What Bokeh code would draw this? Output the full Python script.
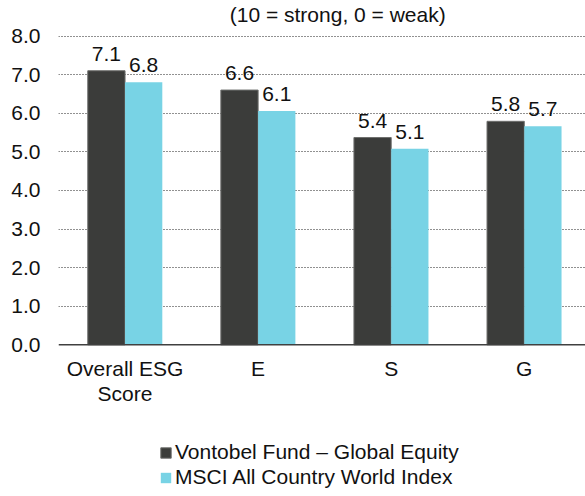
from bokeh.plotting import figure
from bokeh.models import (ColumnDataSource, Range1d, FixedTicker, Legend, LegendItem,
                          Label, NumeralTickFormatter, Span)
from bokeh.core.properties import value
from bokeh.embed import file_html
from bokeh.resources import INLINE

categories = ["Overall ESG\nScore", "E", "S", "G"]
fund_name = "Vontobel Fund \u2013 Global Equity"
index_name = "MSCI All Country World Index"
fund_values = [7.1, 6.6, 5.37, 5.79]
index_values = [6.8, 6.06, 5.08, 5.66]
y_ticks = [0, 1, 2, 3, 4, 5, 6, 7, 8]
subtitle = "(10 = strong, 0 = weak)"

FONT = "Liberation Sans"
FS = "21px"
TXT = "#111111"
DARK = "#3b3c3a"
LIGHT = "#78d3e5"
BW = 0.28

idx = list(range(len(categories)))
src_f = ColumnDataSource(dict(x=[i - BW / 2 for i in idx], top=fund_values,
                              lab=[f"{v:.1f}" for v in fund_values]))
src_i = ColumnDataSource(dict(x=[i + BW / 2 for i in idx], top=index_values,
                              lab=[f"{v:.1f}" for v in index_values]))
src_c = ColumnDataSource(dict(x=idx, y=[0] * len(idx), lab=categories))

p = figure(frame_width=527, frame_height=488, output_backend="svg", toolbar_location=None,
           x_range=Range1d(-0.5, 3.46), y_range=Range1d(-3.723, 8.92),
           min_border_left=0, min_border_right=0, min_border_top=0, min_border_bottom=0)
p.margin = (0, 0, 0, 8)
p.outline_line_color = None
p.background_fill_color = "white"
p.border_fill_color = "white"

r1 = p.vbar(x="x", top="top", bottom=0, width=BW, source=src_f, fill_color=DARK,
            line_color="#6e6f6d", line_width=1)
r2 = p.vbar(x="x", top="top", bottom=0, width=BW, source=src_i, fill_color=LIGHT,
            line_color=None)

for src in (src_f, src_i):
    p.text(x="x", y="top", text="lab", source=src, text_align="center",
           text_baseline="alphabetic", y_offset=-17, text_font_size=FS,
           text_font=value(FONT), text_color=TXT)

# category labels under the baseline
p.text(x="x", y="y", text="lab", source=src_c, text_align="center",
       text_baseline="top", y_offset=12, text_font_size=FS,
       text_font=value(FONT), text_color=TXT, text_line_height=1.1)

# baseline (x axis line)
p.add_layout(Span(location=0, dimension="width", line_color="#404040", line_width=1.5))

p.xaxis.visible = False

p.yaxis.ticker = FixedTicker(ticks=y_ticks)
p.yaxis.formatter = NumeralTickFormatter(format="0.0")
p.yaxis.axis_line_color = None
p.yaxis.major_tick_line_color = None
p.yaxis.minor_tick_line_color = None
p.yaxis.major_tick_out = 0
p.yaxis.major_tick_in = 0
p.yaxis.minor_tick_out = 0
p.yaxis.minor_tick_in = 0
p.yaxis.major_label_text_font = FONT
p.yaxis.major_label_text_font_size = FS
p.yaxis.major_label_text_color = TXT
p.yaxis.major_label_standoff = 18

p.xgrid.grid_line_color = None
p.ygrid.ticker = FixedTicker(ticks=y_ticks[1:])
p.ygrid.grid_line_color = "#222222"
p.ygrid.grid_line_dash = "1 2"
p.ygrid.grid_line_width = 1.2

p.add_layout(Label(x=1.598, y=8.57, text=subtitle, text_align="center",
                   text_baseline="alphabetic", text_font=FONT, text_font_size=FS,
                   text_color=TXT))

legend = Legend(items=[LegendItem(label=fund_name, renderers=[r1]),
                       LegendItem(label=index_name, renderers=[r2])],
                location=(101, -1), orientation="vertical",
                glyph_width=13, glyph_height=13, label_standoff=3, spacing=1,
                label_height=21, padding=0, margin=0,
                label_text_font=FONT, label_text_font_size=FS,
                label_text_color=TXT,
                border_line_color=None, background_fill_alpha=0)
p.add_layout(legend)

open("out.html", "w").write(file_html(p, INLINE))
